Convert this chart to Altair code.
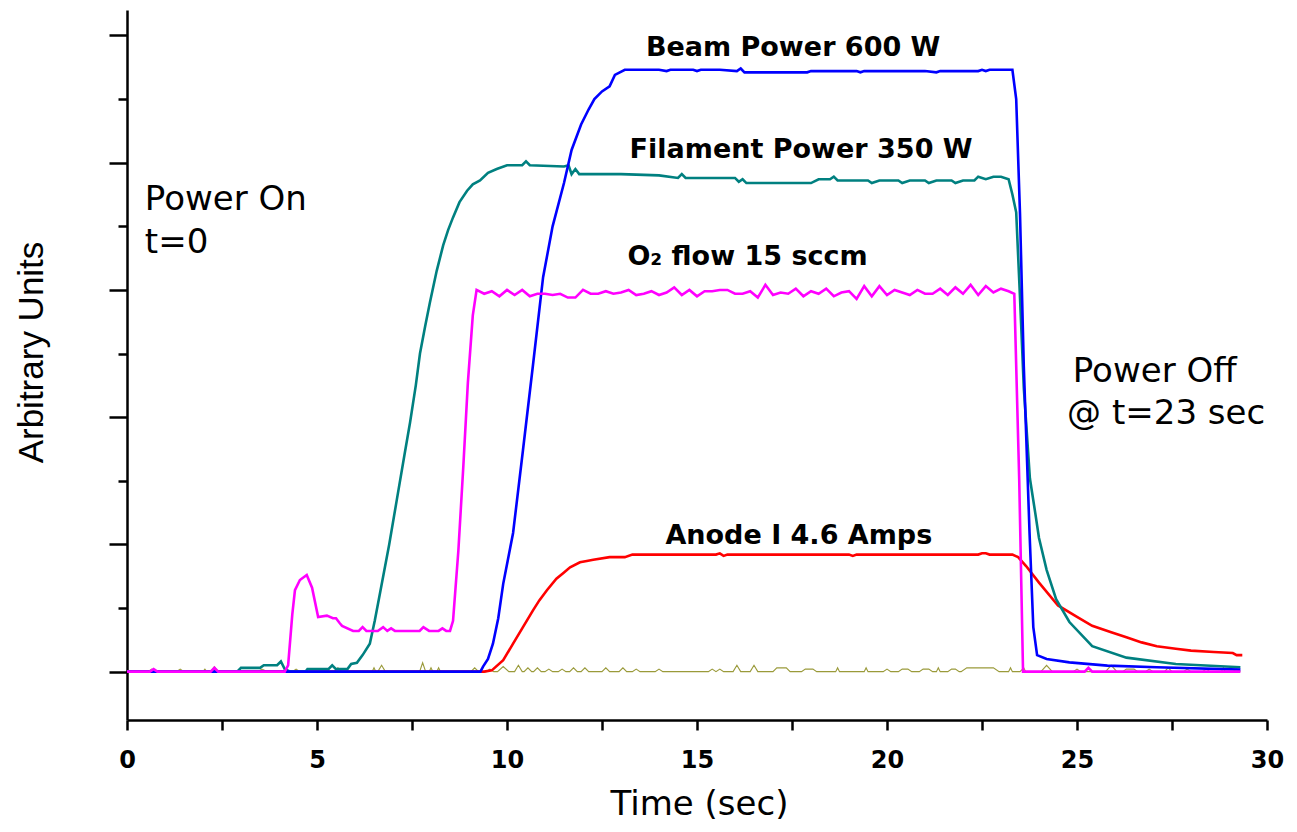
import altair as alt
import pandas as pd

# ---------------- data (time in s, arbitrary units) ----------------
beam = [(0, 0), (9.3, 0), (9.37, 0.04), (9.5, 0.1), (9.63, 0.22), (9.77, 0.42), (9.9, 0.69),
        (10.16, 1.09), (10.42, 1.74), (10.68, 2.4), (10.95, 3.1), (11.2, 3.5), (11.5, 3.84),
        (11.7, 4.1), (11.95, 4.3), (12.15, 4.42), (12.3, 4.5), (12.5, 4.56), (12.7, 4.6),
        (12.84, 4.69), (13.1, 4.73), (13.5, 4.73), (14.0, 4.73), (14.2, 4.72), (14.3, 4.73),
        (14.4, 4.73), (14.9, 4.73), (15.0, 4.72), (15.1, 4.73), (15.6, 4.73), (16.05, 4.72),
        (16.15, 4.74), (16.25, 4.71), (16.6, 4.71), (17.5, 4.71), (17.9, 4.71), (18.0, 4.72),
        (18.1, 4.72), (18.5, 4.72), (19.2, 4.72), (19.3, 4.71), (19.4, 4.72), (21.0, 4.72),
        (21.3, 4.71), (21.4, 4.72), (22.4, 4.72), (22.5, 4.73), (22.6, 4.72), (22.7, 4.73),
        (22.8, 4.73), (23.2, 4.73), (23.3, 4.73), (23.4, 4.5), (23.5, 3.6), (23.6, 2.4),
        (23.75, 1.1), (23.85, 0.35), (23.95, 0.13), (24.2, 0.10), (24.8, 0.073), (25.8, 0.047),
        (27.1, 0.034), (29.3, 0.016)]

filament = [(0, 0), (2.9, 0), (3.0, 0.03), (3.5, 0.03), (3.6, 0.05), (3.95, 0.05), (4.05, 0.08),
            (4.15, 0.02), (4.3, 0.0), (4.7, 0.0), (4.75, 0.02), (5.3, 0.02), (5.4, 0.05),
            (5.5, 0.02), (5.8, 0.02), (5.9, 0.06), (6.05, 0.07), (6.2, 0.13), (6.39, 0.22),
            (6.52, 0.4), (6.66, 0.62), (6.9, 1.0), (7.1, 1.35), (7.3, 1.7), (7.45, 1.96),
            (7.6, 2.25), (7.71, 2.5), (7.85, 2.72), (7.97, 2.9), (8.15, 3.15), (8.32, 3.35),
            (8.45, 3.47), (8.58, 3.57), (8.75, 3.69), (8.95, 3.78), (9.1, 3.83), (9.29, 3.86),
            (9.5, 3.92), (9.73, 3.95), (10.0, 3.98), (10.4, 3.98), (10.5, 4.01), (10.6, 3.98),
            (11.5, 3.97), (11.62, 3.98), (11.7, 3.91), (11.8, 3.95), (11.9, 3.91), (13.0, 3.91),
            (14.0, 3.90), (14.5, 3.88), (14.6, 3.91), (14.7, 3.88), (16.0, 3.88), (16.1, 3.85),
            (16.2, 3.87), (16.3, 3.84), (18.0, 3.84), (18.2, 3.87), (18.5, 3.87), (18.6, 3.89),
            (18.7, 3.86), (19.5, 3.86), (19.6, 3.84), (19.8, 3.86), (20.3, 3.86), (20.4, 3.84),
            (20.6, 3.86), (21.0, 3.86), (21.1, 3.84), (21.3, 3.86), (21.7, 3.86), (21.8, 3.84),
            (22.0, 3.86), (22.3, 3.86), (22.4, 3.89), (22.6, 3.87), (22.8, 3.89), (23.0, 3.89),
            (23.2, 3.87), (23.3, 3.75), (23.4, 3.61), (23.5, 2.94), (23.6, 2.23), (23.76, 1.52),
            (23.9, 1.25), (24.0, 1.05), (24.2, 0.8), (24.45, 0.57), (24.8, 0.39), (25.4, 0.2),
            (26.3, 0.11), (27.6, 0.06), (29.3, 0.035)]

o2_flow = [(0, 0), (0.6, 0), (0.7, 0.02), (0.8, 0), (2.2, 0), (2.3, 0.03), (2.4, 0), (4.15, 0),
           (4.24, 0.05), (4.35, 0.45), (4.42, 0.64), (4.55, 0.72), (4.73, 0.76), (4.87, 0.66),
           (5.03, 0.43), (5.26, 0.44), (5.42, 0.42), (5.5, 0.42), (5.6, 0.38), (5.66, 0.36),
           (5.95, 0.32), (6.1, 0.32), (6.2, 0.35), (6.3, 0.32), (6.6, 0.32), (6.74, 0.35),
           (6.85, 0.32), (6.95, 0.34), (7.05, 0.32), (7.7, 0.32), (7.8, 0.35), (7.95, 0.32),
           (8.2, 0.32), (8.3, 0.34), (8.4, 0.32), (8.5, 0.32), (8.58, 0.4), (8.72, 0.95),
           (8.85, 1.61), (8.97, 2.27), (9.1, 2.8),
           (9.2, 3.00), (9.4, 2.97), (9.6, 2.99), (9.8, 2.95), (10.0, 3.00), (10.2, 2.96),
           (10.4, 3.00), (10.6, 2.95), (10.8, 2.97), (11.0, 2.97), (11.2, 2.96), (11.4, 2.97),
           (11.6, 2.94), (11.8, 2.94), (12.0, 3.00), (12.2, 2.97), (12.4, 2.97), (12.6, 2.99),
           (12.8, 2.97), (13.0, 2.98), (13.2, 3.00), (13.4, 2.96), (13.6, 2.97), (13.8, 2.99),
           (14.0, 2.96), (14.2, 2.98), (14.4, 3.02), (14.6, 2.96), (14.8, 3.00), (15.0, 2.95),
           (15.2, 2.99), (15.4, 2.99), (15.6, 3.00), (15.8, 3.00), (16.0, 2.97), (16.2, 2.97),
           (16.4, 2.99), (16.6, 2.94), (16.8, 3.04), (17.0, 2.96), (17.2, 2.98), (17.4, 2.97),
           (17.6, 3.01), (17.8, 2.95), (18.0, 2.99), (18.2, 2.97), (18.4, 3.01), (18.6, 2.95),
           (18.8, 2.98), (19.0, 2.99), (19.2, 2.93), (19.4, 3.03), (19.6, 2.95), (19.8, 3.03),
           (20.0, 2.96), (20.2, 3.00), (20.4, 2.98), (20.6, 2.96), (20.8, 3.00), (21.0, 2.97),
           (21.2, 2.97), (21.4, 3.01), (21.6, 2.96), (21.8, 3.02), (22.0, 2.97), (22.2, 3.04),
           (22.4, 2.96), (22.6, 3.03), (22.8, 2.98), (23.0, 3.01), (23.2, 2.99),
           (23.35, 2.97), (23.48, 1.5), (23.58, 0.0), (25.2, 0), (25.3, 0.03), (25.4, 0),
           (29.3, 0)]

anode = [(0, 0), (9.4, 0), (9.6, 0.01), (9.9, 0.09), (10.16, 0.22), (10.42, 0.35), (10.68, 0.48),
         (10.85, 0.56), (11.05, 0.64), (11.3, 0.73), (11.5, 0.78), (11.66, 0.82), (11.92, 0.86),
         (12.1, 0.87), (12.27, 0.88), (12.7, 0.9), (13.1, 0.9), (13.3, 0.92), (15.5, 0.92),
         (15.6, 0.93), (15.7, 0.91), (15.8, 0.92), (19.0, 0.92), (19.1, 0.91), (19.2, 0.92),
         (22.4, 0.92), (22.5, 0.93), (22.6, 0.93), (22.7, 0.92), (23.3, 0.92), (23.45, 0.9),
         (23.66, 0.83), (24.0, 0.7), (24.5, 0.52), (25.0, 0.43), (25.4, 0.36), (25.9, 0.31),
         (26.3, 0.27), (26.7, 0.23), (27.1, 0.2), (27.6, 0.18), (28.0, 0.165), (28.6, 0.155),
         (29.1, 0.146), (29.2, 0.13), (29.35, 0.13)]

baseline_trace = [(0, 0), (0.55, 0), (0.65, 0.02), (0.75, 0), (1.3, 0), (1.4, 0.02), (1.5, 0),
                  (2.0, 0), (2.05, 0.02), (2.1, 0), (2.2, 0), (2.3, 0.04), (2.4, 0), (3.45, 0),
                  (3.55, 0.02), (3.7, 0), (4.35, 0), (4.45, 0.02), (4.55, 0), (5.45, 0),
                  (5.55, 0.03), (5.65, 0), (6.45, 0), (6.5, 0.03), (6.55, 0), (6.6, 0),
                  (6.7, 0.05), (6.8, 0), (7.7, 0), (7.78, 0.07), (7.86, 0), (7.95, 0), (8.0, 0.03),
                  (8.05, 0), (8.15, 0), (8.2, 0.03), (8.25, 0), (9.05, 0), (9.15, 0.03), (9.25, 0),
                  (9.45, 0), (9.55, 0.02), (9.65, 0), (9.75, 0), (9.9, 0.04), (10.05, 0),
                  (10.2, 0), (10.3, 0.05), (10.4, 0), (10.45, 0), (10.55, 0.03), (10.65, 0),
                  (10.7, 0), (10.8, 0.03), (10.9, 0), (11.0, 0), (11.1, 0.02), (11.2, 0),
                  (11.35, 0), (11.45, 0.02), (11.55, 0), (11.65, 0), (11.75, 0.03), (11.85, 0),
                  (11.95, 0), (12.05, 0.03), (12.15, 0), (12.5, 0), (12.6, 0.03), (12.7, 0),
                  (12.95, 0), (13.05, 0.03), (13.15, 0), (13.3, 0), (13.4, 0.02), (13.5, 0),
                  (13.9, 0), (14.0, 0.02), (14.1, 0), (15.3, 0), (15.4, 0.02), (15.5, 0),
                  (15.6, 0.02), (15.7, 0), (15.95, 0), (16.05, 0.05), (16.15, 0), (16.4, 0),
                  (16.5, 0.05), (16.6, 0), (17.0, 0), (17.1, 0.03), (17.35, 0.03), (17.45, 0),
                  (17.75, 0), (17.85, 0.02), (18.05, 0.02), (18.15, 0), (18.65, 0), (18.7, 0.03),
                  (18.75, 0), (19.4, 0), (19.45, 0.03), (19.5, 0), (19.9, 0), (20.0, 0.02),
                  (20.1, 0), (20.3, 0), (20.4, 0.02), (20.55, 0.02), (20.65, 0), (20.85, 0),
                  (20.95, 0.02), (21.1, 0.02), (21.2, 0), (21.3, 0), (21.35, 0.03), (21.4, 0),
                  (21.6, 0), (21.7, 0.02), (21.8, 0.02), (21.9, 0), (21.95, 0), (22.1, 0.03),
                  (22.8, 0.03), (22.95, 0), (23.2, 0), (23.25, 0.03), (23.3, 0), (23.5, 0),
                  (23.6, 0.03), (23.65, 0), (24.05, 0), (24.2, 0.05), (24.35, 0), (24.9, 0),
                  (25.0, 0.02), (25.1, 0), (25.75, 0), (25.9, 0.05), (26.05, 0), (26.2, 0),
                  (26.3, 0.02), (26.5, 0.02), (26.6, 0), (26.8, 0), (26.9, 0.02), (27.0, 0),
                  (27.3, 0), (27.4, 0.03), (27.5, 0), (27.8, 0), (27.9, 0.02), (28.0, 0),
                  (28.3, 0), (28.4, 0.02), (28.5, 0), (28.8, 0), (28.85, 0.03), (28.9, 0),
                  (29.1, 0), (29.2, 0.02), (29.3, 0)]

x_tick_values = [0, 2.5, 5, 7.5, 10, 12.5, 15, 17.5, 20, 22.5, 25, 27.5, 30]
y_major_ticks = [0, 1, 2, 3, 4, 5]
y_minor_ticks = [0.5, 1.5, 2.5, 3.5, 4.5]

bold_labels = ["Beam Power 600 W", "Filament Power 350 W", "O\u2082 flow 15 sccm", "Anode I 4.6 Amps"]
bold_t = [17.53, 17.74, 16.33, 17.68]
bold_v = [4.90, 4.10, 3.26, 1.07]

plain_labels = ["Power On", "t=0", "Power Off", "@ t=23 sec"]
plain_t = [0.47, 0.47, 24.89, 24.74]
plain_v = [3.63, 3.29, 2.28, 1.95]

# ---------------- chart ----------------
FONT = "DejaVu Sans"
X_SCALE = alt.Scale(domain=[0, 30], nice=False, zero=False)
Y_SCALE = alt.Scale(domain=[-0.38, 5.2], nice=False, zero=False)

x_axis = alt.Axis(
    values=x_tick_values, grid=False, orient="bottom",
    labelExpr="datum.value % 5 === 0 ? format(datum.value, 'd') : ''",
    labelFont=FONT, labelFontSize=24, labelFontWeight="bold", labelColor="black",
    labelPadding=18, labelFlush=False, labelOverlap=False,
    tickSize=10, tickWidth=2.5, tickColor="black",
    domainColor="black", domainWidth=2.5,
    title="Time (sec)", titleFont=FONT, titleFontSize=34, titleFontWeight="normal",
    titleColor="black", titleX=572, titleY=94, titleAlign="center",
    titleBaseline="alphabetic",
)

y_major_axis = alt.Axis(
    values=y_major_ticks, grid=False, orient="left", labels=False,
    tickSize=18, tickWidth=2.5, tickColor="black",
    domainColor="black", domainWidth=2.5,
    title="Arbitrary Units", titleFont="Liberation Sans", titleFontSize=35,
    titleFontWeight="normal", titleColor="black", titleAngle=270,
    titleX=-85, titleY=342, titleAlign="center", titleBaseline="alphabetic",
)

y_minor_axis = alt.Axis(
    values=y_minor_ticks, grid=False, orient="left", labels=False, domain=False,
    tickSize=9, tickWidth=2.5, tickColor="black", title="",
)


def frame(pairs):
    return pd.DataFrame(pairs, columns=["t", "v"])


def xenc():
    return alt.X("t:Q", scale=X_SCALE, axis=x_axis)


def line_layer(pairs, color, width, yaxis=None):
    return alt.Chart(frame(pairs)).mark_line(
        color=color, strokeWidth=width, interpolate="linear", clip=True
    ).encode(
        x=xenc(),
        y=alt.Y("v:Q", scale=Y_SCALE, axis=yaxis),
        order=alt.Order("t:Q"),
    )


olive = line_layer(baseline_trace, "#9a9a3a", 1.1, y_minor_axis)
red = line_layer(anode, "#ff0000", 2.6)
teal = line_layer(filament, "#008080", 2.6)
blue = line_layer(beam, "#0000ff", 2.6, y_major_axis)
magenta = line_layer(o2_flow, "#ff00ff", 2.6)

bold_df = pd.DataFrame({"t": bold_t, "v": bold_v, "label": bold_labels})
plain_df = pd.DataFrame({"t": plain_t, "v": plain_v, "label": plain_labels})

bold_text = alt.Chart(bold_df).mark_text(
    font=FONT, fontSize=27, fontWeight="bold", color="black",
    align="center", baseline="middle"
).encode(x=xenc(), y=alt.Y("v:Q", scale=Y_SCALE, axis=None), text="label:N")

plain_text = alt.Chart(plain_df).mark_text(
    font=FONT, fontSize=34, fontWeight="normal", color="black",
    align="left", baseline="alphabetic"
).encode(x=xenc(), y=alt.Y("v:Q", scale=Y_SCALE, axis=None), text="label:N")

chart = alt.layer(
    olive, red, teal, blue, magenta, bold_text, plain_text
).resolve_scale(y="shared").resolve_axis(y="independent").properties(
    width=1140, height=710,
    padding={"left": 119, "top": 2, "right": 22, "bottom": 104},
    autosize=alt.AutoSizeParams(type="none"),
    background="white",
).configure_view(strokeWidth=0)

chart.save("out.html", embed_options={"renderer": "svg", "actions": False})
